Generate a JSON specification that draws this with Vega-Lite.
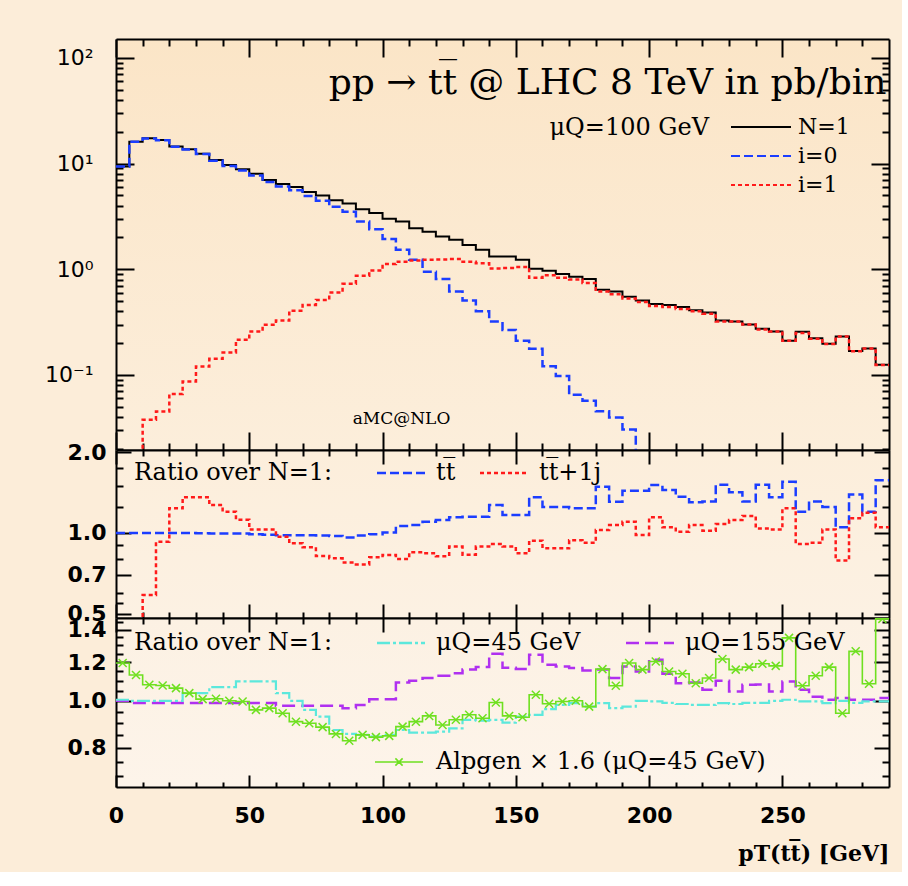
{
"$schema": "https://vega.github.io/schema/vega-lite/v6.json",
"background": "#FCEDD9",
"padding": {"left": 44, "top": 38, "right": 12, "bottom": 8},
"spacing": 0,
"bounds": "flush",
"resolve": {"scale": {"color": "independent", "strokeDash": "independent", "strokeWidth": "independent"}, "legend": {"color": "independent", "strokeDash": "independent", "strokeWidth": "independent"}},
"config": {
  "font": "DejaVu Serif",
  "view": {"stroke": null},
  "axis": {"domainColor": "#000", "domainWidth": 2, "tickColor": "#000", "tickWidth": 2, "grid": false, "labelColor": "#000", "titleColor": "#000", "labelOverlap": false, "labelFlush": false},
  "legend": {"labelColor": "#000", "titleColor": "#000", "padding": 0, "titleLimit": 400, "labelLimit": 400}
},
"data": {"values": [
{"lo":0,"N1":9.4,"i0":9.4,"i1":null,"rtt":1.0,"rtt1j":null,"mu45":1.005,"mu155":1.0,"alp":1.196},
{"lo":5,"N1":16.1,"i0":16.1,"i1":0.005,"rtt":1.0,"rtt1j":0.3,"mu45":1.0,"mu155":0.99,"alp":1.13},
{"lo":10,"N1":17.4,"i0":17.3,"i1":0.0376,"rtt":1.0,"rtt1j":0.588,"mu45":1.0,"mu155":0.99,"alp":1.079},
{"lo":15,"N1":16.7,"i0":16.6,"i1":0.0451,"rtt":1.0,"rtt1j":0.928,"mu45":1.0,"mu155":0.99,"alp":1.075},
{"lo":20,"N1":14.5,"i0":14.4,"i1":0.0662,"rtt":1.0,"rtt1j":1.235,"mu45":1.0,"mu155":0.99,"alp":1.062},
{"lo":25,"N1":13.7,"i0":13.6,"i1":0.0867,"rtt":1.0,"rtt1j":1.358,"mu45":1.037,"mu155":0.99,"alp":1.037},
{"lo":30,"N1":12.4,"i0":12.3,"i1":0.12,"rtt":0.998,"rtt1j":1.358,"mu45":1.037,"mu155":0.99,"alp":1.008},
{"lo":35,"N1":10.8,"i0":10.65,"i1":0.142,"rtt":0.995,"rtt1j":1.27,"mu45":1.067,"mu155":0.99,"alp":1.01},
{"lo":40,"N1":9.7,"i0":9.5,"i1":0.163,"rtt":0.995,"rtt1j":1.2,"mu45":1.067,"mu155":0.99,"alp":1.0},
{"lo":45,"N1":8.85,"i0":8.6,"i1":0.215,"rtt":0.995,"rtt1j":1.12,"mu45":1.096,"mu155":0.99,"alp":0.997},
{"lo":50,"N1":8.0,"i0":7.7,"i1":0.258,"rtt":0.99,"rtt1j":1.03,"mu45":1.096,"mu155":0.99,"alp":0.958},
{"lo":55,"N1":7.0,"i0":6.7,"i1":0.298,"rtt":0.985,"rtt1j":1.03,"mu45":1.096,"mu155":0.99,"alp":0.966},
{"lo":60,"N1":6.4,"i0":6.06,"i1":0.327,"rtt":0.98,"rtt1j":0.969,"mu45":1.037,"mu155":0.977,"alp":0.943},
{"lo":65,"N1":6.0,"i0":5.6,"i1":0.406,"rtt":0.98,"rtt1j":0.915,"mu45":1.0,"mu155":0.977,"alp":0.906},
{"lo":70,"N1":5.4,"i0":4.95,"i1":0.46,"rtt":0.98,"rtt1j":0.885,"mu45":0.958,"mu155":0.977,"alp":0.899},
{"lo":75,"N1":5.0,"i0":4.45,"i1":0.513,"rtt":0.978,"rtt1j":0.821,"mu45":0.928,"mu155":0.977,"alp":0.883},
{"lo":80,"N1":4.5,"i0":3.9,"i1":0.602,"rtt":0.975,"rtt1j":0.805,"mu45":0.871,"mu155":0.977,"alp":0.855},
{"lo":85,"N1":4.2,"i0":3.5,"i1":0.728,"rtt":0.963,"rtt1j":0.776,"mu45":0.855,"mu155":0.966,"alp":0.828},
{"lo":90,"N1":3.7,"i0":2.83,"i1":0.867,"rtt":0.978,"rtt1j":0.764,"mu45":0.851,"mu155":0.98,"alp":0.851},
{"lo":95,"N1":3.4,"i0":2.39,"i1":0.973,"rtt":0.99,"rtt1j":0.812,"mu45":0.844,"mu155":1.008,"alp":0.842},
{"lo":100,"N1":3.0,"i0":1.93,"i1":1.12,"rtt":1.005,"rtt1j":0.829,"mu45":0.851,"mu155":1.008,"alp":0.847},
{"lo":105,"N1":2.83,"i0":1.53,"i1":1.18,"rtt":1.062,"rtt1j":0.8,"mu45":0.871,"mu155":1.09,"alp":0.885},
{"lo":110,"N1":2.45,"i0":1.23,"i1":1.21,"rtt":1.07,"rtt1j":0.848,"mu45":0.86,"mu155":1.1,"alp":0.906},
{"lo":115,"N1":2.27,"i0":0.95,"i1":1.23,"rtt":1.1,"rtt1j":0.84,"mu45":0.86,"mu155":1.114,"alp":0.931},
{"lo":120,"N1":2.04,"i0":0.81,"i1":1.24,"rtt":1.117,"rtt1j":0.82,"mu45":0.864,"mu155":1.126,"alp":0.892},
{"lo":125,"N1":1.9,"i0":0.615,"i1":1.25,"rtt":1.144,"rtt1j":0.89,"mu45":0.878,"mu155":1.14,"alp":0.914},
{"lo":130,"N1":1.7,"i0":0.506,"i1":1.18,"rtt":1.15,"rtt1j":0.83,"mu45":0.914,"mu155":1.16,"alp":0.936},
{"lo":135,"N1":1.53,"i0":0.4,"i1":1.14,"rtt":1.15,"rtt1j":0.89,"mu45":0.91,"mu155":1.173,"alp":0.921},
{"lo":140,"N1":1.32,"i0":0.32,"i1":1.02,"rtt":1.27,"rtt1j":0.91,"mu45":0.914,"mu155":1.25,"alp":0.992},
{"lo":145,"N1":1.32,"i0":0.266,"i1":1.03,"rtt":1.167,"rtt1j":0.89,"mu45":0.902,"mu155":1.17,"alp":0.931},
{"lo":150,"N1":1.23,"i0":0.211,"i1":1.05,"rtt":1.167,"rtt1j":0.84,"mu45":0.928,"mu155":1.162,"alp":0.925},
{"lo":155,"N1":1.01,"i0":0.177,"i1":0.83,"rtt":1.357,"rtt1j":0.936,"mu45":0.936,"mu155":1.244,"alp":1.029},
{"lo":160,"N1":0.97,"i0":0.121,"i1":0.88,"rtt":1.25,"rtt1j":0.877,"mu45":0.961,"mu155":1.186,"alp":0.986},
{"lo":165,"N1":0.9,"i0":0.098,"i1":0.83,"rtt":1.25,"rtt1j":0.877,"mu45":0.981,"mu155":1.177,"alp":0.997},
{"lo":170,"N1":0.85,"i0":0.065,"i1":0.8,"rtt":1.235,"rtt1j":0.94,"mu45":0.989,"mu155":1.168,"alp":1.0},
{"lo":175,"N1":0.81,"i0":0.057,"i1":0.74,"rtt":1.235,"rtt1j":0.92,"mu45":0.973,"mu155":1.155,"alp":0.973},
{"lo":180,"N1":0.64,"i0":0.0454,"i1":0.615,"rtt":1.487,"rtt1j":1.026,"mu45":0.989,"mu155":1.16,"alp":1.162},
{"lo":185,"N1":0.615,"i0":0.0395,"i1":0.58,"rtt":1.307,"rtt1j":1.07,"mu45":0.966,"mu155":1.114,"alp":1.074},
{"lo":190,"N1":0.55,"i0":0.0305,"i1":0.53,"rtt":1.437,"rtt1j":1.1,"mu45":0.973,"mu155":1.177,"alp":1.196},
{"lo":195,"N1":0.506,"i0":0.012,"i1":0.49,"rtt":1.437,"rtt1j":0.983,"mu45":1.0,"mu155":1.149,"alp":1.159},
{"lo":200,"N1":0.47,"i0":null,"i1":0.45,"rtt":1.509,"rtt1j":1.144,"mu45":0.997,"mu155":1.215,"alp":1.205},
{"lo":205,"N1":0.46,"i0":null,"i1":0.44,"rtt":1.445,"rtt1j":1.05,"mu45":0.99,"mu155":1.137,"alp":1.149},
{"lo":210,"N1":0.44,"i0":null,"i1":0.42,"rtt":1.365,"rtt1j":1.01,"mu45":0.985,"mu155":1.087,"alp":1.137},
{"lo":215,"N1":0.41,"i0":null,"i1":0.4,"rtt":1.3,"rtt1j":1.07,"mu45":0.981,"mu155":1.09,"alp":1.087},
{"lo":220,"N1":0.39,"i0":null,"i1":0.38,"rtt":1.31,"rtt1j":1.02,"mu45":0.981,"mu155":1.054,"alp":1.114},
{"lo":225,"N1":0.327,"i0":null,"i1":0.32,"rtt":1.51,"rtt1j":1.08,"mu45":0.989,"mu155":1.1,"alp":1.219},
{"lo":230,"N1":0.32,"i0":null,"i1":0.32,"rtt":1.417,"rtt1j":1.117,"mu45":0.985,"mu155":1.045,"alp":1.159},
{"lo":235,"N1":0.3,"i0":null,"i1":0.3,"rtt":1.31,"rtt1j":1.157,"mu45":0.99,"mu155":1.079,"alp":1.173},
{"lo":240,"N1":0.273,"i0":null,"i1":0.27,"rtt":1.51,"rtt1j":1.04,"mu45":0.99,"mu155":1.08,"alp":1.192},
{"lo":245,"N1":0.258,"i0":null,"i1":0.258,"rtt":1.357,"rtt1j":1.03,"mu45":1.0,"mu155":1.045,"alp":1.18},
{"lo":250,"N1":0.211,"i0":null,"i1":0.211,"rtt":1.55,"rtt1j":1.235,"mu45":1.005,"mu155":1.096,"alp":1.347},
{"lo":255,"N1":0.256,"i0":null,"i1":0.25,"rtt":1.2,"rtt1j":0.91,"mu45":0.997,"mu155":1.054,"alp":1.074},
{"lo":260,"N1":0.223,"i0":null,"i1":0.22,"rtt":1.31,"rtt1j":0.92,"mu45":0.997,"mu155":1.02,"alp":1.126},
{"lo":265,"N1":0.197,"i0":null,"i1":0.196,"rtt":1.25,"rtt1j":1.03,"mu45":0.989,"mu155":1.005,"alp":1.173},
{"lo":270,"N1":0.231,"i0":null,"i1":0.231,"rtt":1.05,"rtt1j":0.79,"mu45":1.0,"mu155":1.013,"alp":0.943},
{"lo":275,"N1":0.169,"i0":null,"i1":0.168,"rtt":1.39,"rtt1j":1.134,"mu45":0.99,"mu155":1.005,"alp":1.264},
{"lo":280,"N1":0.178,"i0":null,"i1":0.178,"rtt":1.2,"rtt1j":1.19,"mu45":0.997,"mu155":1.005,"alp":1.084},
{"lo":285,"N1":0.125,"i0":null,"i1":0.124,"rtt":1.57,"rtt1j":1.05,"mu45":0.997,"mu155":1.013,"alp":1.474},
{"lo":290,"N1":0.125,"i0":null,"i1":0.124,"rtt":1.57,"rtt1j":1.05,"mu45":0.997,"mu155":1.013,"alp":1.474}
]},
"vconcat": [
{
  "width": 773, "height": 411,
  "view": {"stroke": null, "fill": {"gradient": "linear", "x1": 0, "y1": 0, "x2": 0, "y2": 1, "stops": [{"offset": 0, "color": "#FBE5C7"}, {"offset": 1, "color": "#FCEEDB"}]}},
  "resolve": {"axis": {"x": "independent", "y": "independent"}},
  "layer": [
    {
      "mark": {"type": "line", "interpolate": "step-after", "strokeWidth": 2, "clip": true},
      "encoding": {
        "x": {"field": "lo", "type": "quantitative", "scale": {"domain": [0, 290], "nice": false, "zero": false},
          "axis": {"orient": "bottom", "values": [0,10,20,30,40,50,60,70,80,90,100,110,120,130,140,150,160,170,180,190,200,210,220,230,240,250,260,270,280], "labels": false,
            "tickSize": {"condition": {"test": "datum.value % 50 === 0", "value": -18}, "value": -7},
            "title": "aMC@NLO", "titleX": 285, "titleY": -27, "titleAlign": "center", "titleBaseline": "alphabetic", "titleFont": "DejaVu Serif", "titleFontSize": 17, "titleFontWeight": "normal"}},
        "y": {"field": "N1", "type": "quantitative", "scale": {"type": "log", "domain": [0.0195, 151], "nice": false},
          "axis": {"orient": "left", "values": [0.02,0.03,0.04,0.05,0.06,0.07,0.08,0.09,0.1,0.2,0.3,0.4,0.5,0.6,0.7,0.8,0.9,1,2,3,4,5,6,7,8,9,10,20,30,40,50,60,70,80,90,100],
            "tickSize": {"condition": {"test": "datum.value === 0.1 || datum.value === 1 || datum.value === 10 || datum.value === 100", "value": -18}, "value": -7},
            "labelExpr": "datum.value === 100 ? '10²' : datum.value === 10 ? '10¹' : datum.value === 1 ? '10⁰' : datum.value === 0.1 ? '10⁻¹' : ''",
            "labelFont": "DejaVu Sans", "labelFontSize": 22, "labelFontWeight": "normal", "labelPadding": 41, "title": null}},
        "color": {"datum": "N=1", "scale": {"domain": ["N=1", "i=0", "i=1"], "range": ["#000000", "#1b3dff", "#ff1a1a"]},
          "legend": {"orient": "none", "legendX": 634, "legendY": 77, "title": null, "direction": "vertical", "symbolType": "M-5,0H5", "symbolSize": 144, "symbolStrokeWidth": 2.2, "labelFont": "DejaVu Serif", "labelFontSize": 22, "labelOffset": 26, "rowPadding": 7}},
        "strokeDash": {"datum": "N=1", "scale": {"domain": ["N=1", "i=0", "i=1"], "range": [[1, 0], [9, 4], [4, 3]]},
          "legend": {"orient": "none", "legendX": 634, "legendY": 77, "title": null, "direction": "vertical", "symbolType": "M-5,0H5", "symbolSize": 144, "symbolStrokeWidth": 2.2, "labelFont": "DejaVu Serif", "labelFontSize": 22, "labelOffset": 26, "rowPadding": 7}}
      }
    },
    {
      "mark": {"type": "line", "interpolate": "step-after", "strokeWidth": 2.5, "clip": true},
      "encoding": {
        "x": {"field": "lo", "type": "quantitative",
          "axis": {"orient": "top", "values": [0,10,20,30,40,50,60,70,80,90,100,110,120,130,140,150,160,170,180,190,200,210,220,230,240,250,260,270,280], "labels": false,
            "tickSize": {"condition": {"test": "datum.value % 50 === 0", "value": -18}, "value": -7},
            "title": "pp → tt\u0305 @ LHC 8 TeV in pb/bin", "titleX": 770, "titleY": 54, "titleAlign": "right", "titleBaseline": "alphabetic", "titleFont": "DejaVu Serif", "titleFontSize": 36, "titleFontWeight": "normal"}},
        "y": {"field": "i0", "type": "quantitative",
          "axis": {"orient": "right", "values": [0.02,0.03,0.04,0.05,0.06,0.07,0.08,0.09,0.1,0.2,0.3,0.4,0.5,0.6,0.7,0.8,0.9,1,2,3,4,5,6,7,8,9,10,20,30,40,50,60,70,80,90,100],
            "tickSize": {"condition": {"test": "datum.value === 0.1 || datum.value === 1 || datum.value === 10 || datum.value === 100", "value": -18}, "value": -7},
            "labels": false, "title": "μQ=100 GeV", "titleAngle": 0, "titleX": -340, "titleY": 95, "titleAlign": "left", "titleBaseline": "alphabetic", "titleFont": "DejaVu Serif", "titleFontSize": 24, "titleFontWeight": "normal"}},
        "color": {"datum": "i=0"},
        "strokeDash": {"datum": "i=0"}
      }
    },
    {
      "mark": {"type": "line", "interpolate": "step-after", "strokeWidth": 2.5, "clip": true},
      "encoding": {
        "x": {"field": "lo", "type": "quantitative", "axis": null},
        "y": {"field": "i1", "type": "quantitative", "axis": null},
        "color": {"datum": "i=1"},
        "strokeDash": {"datum": "i=1"}
      }
    }
  ]
},
{
  "width": 773, "height": 168,
  "view": {"stroke": null, "fill": {"gradient": "linear", "x1": 0, "y1": 0, "x2": 0, "y2": 1, "stops": [{"offset": 0, "color": "#FCEEDB"}, {"offset": 1, "color": "#FCF1E3"}]}},
  "resolve": {"axis": {"x": "independent", "y": "independent"}},
  "layer": [
    {
      "mark": {"type": "line", "interpolate": "step-after", "strokeWidth": 2.5, "clip": true},
      "encoding": {
        "x": {"field": "lo", "type": "quantitative", "scale": {"domain": [0, 290], "nice": false, "zero": false},
          "axis": {"orient": "bottom", "values": [0,10,20,30,40,50,60,70,80,90,100,110,120,130,140,150,160,170,180,190,200,210,220,230,240,250,260,270,280], "labels": false,
            "tickSize": {"condition": {"test": "datum.value % 50 === 0", "value": -14}, "value": -6}, "title": null}},
        "y": {"field": "rtt", "type": "quantitative", "scale": {"type": "log", "domain": [0.483, 2.035], "nice": false},
          "axis": {"orient": "left", "values": [0.5,0.55,0.6,0.7,0.8,0.9,1,1.25,1.5,1.75,2],
            "tickSize": {"condition": {"test": "datum.value === 0.5 || datum.value === 0.7 || datum.value === 1 || datum.value === 2", "value": -15}, "value": -7},
            "labelExpr": "datum.value === 2 ? '2.0' : datum.value === 1 ? '1.0' : datum.value === 0.7 ? '0.7' : datum.value === 0.5 ? '0.5' : ''",
            "labelFont": "DejaVu Sans", "labelFontSize": 22, "labelFontWeight": "bold", "labelPadding": 25, "title": null}},
        "color": {"datum": "tt\u0305", "scale": {"domain": ["tt\u0305", "tt\u0305+1j"], "range": ["#1b3dff", "#ff1a1a"]},
          "legend": {"orient": "none", "legendX": 18, "legendY": 11, "title": "Ratio over N=1:", "titleOrient": "left", "titleFont": "DejaVu Serif", "titleFontSize": 24, "titleFontWeight": "normal", "titlePadding": 56, "direction": "horizontal", "symbolType": "M-4,0H4", "symbolSize": 144, "symbolStrokeWidth": 2.5, "labelFont": "DejaVu Serif", "labelFontSize": 24, "labelOffset": 23, "columnPadding": 19}},
        "strokeDash": {"datum": "tt\u0305", "scale": {"domain": ["tt\u0305", "tt\u0305+1j"], "range": [[9, 4], [4, 3]]},
          "legend": {"orient": "none", "legendX": 18, "legendY": 11, "title": "Ratio over N=1:", "titleOrient": "left", "titleFont": "DejaVu Serif", "titleFontSize": 24, "titleFontWeight": "normal", "titlePadding": 56, "direction": "horizontal", "symbolType": "M-4,0H4", "symbolSize": 144, "symbolStrokeWidth": 2.5, "labelFont": "DejaVu Serif", "labelFontSize": 24, "labelOffset": 23, "columnPadding": 19}}
      }
    },
    {
      "mark": {"type": "line", "interpolate": "step-after", "strokeWidth": 2.5, "clip": true},
      "encoding": {
        "x": {"field": "lo", "type": "quantitative",
          "axis": {"orient": "top", "values": [0,10,20,30,40,50,60,70,80,90,100,110,120,130,140,150,160,170,180,190,200,210,220,230,240,250,260,270,280], "labels": false,
            "tickSize": {"condition": {"test": "datum.value % 50 === 0", "value": -14}, "value": -6}, "title": null}},
        "y": {"field": "rtt1j", "type": "quantitative",
          "axis": {"orient": "right", "values": [0.5,0.55,0.6,0.7,0.8,0.9,1,1.25,1.5,1.75,2],
            "tickSize": {"condition": {"test": "datum.value === 0.5 || datum.value === 0.7 || datum.value === 1 || datum.value === 2", "value": -15}, "value": -7},
            "labels": false, "title": null}},
        "color": {"datum": "tt\u0305+1j"},
        "strokeDash": {"datum": "tt\u0305+1j"}
      }
    }
  ]
},
{
  "width": 773, "height": 169,
  "view": {"stroke": null, "fill": {"gradient": "linear", "x1": 0, "y1": 0, "x2": 0, "y2": 1, "stops": [{"offset": 0, "color": "#FCF1E3"}, {"offset": 1, "color": "#FDF4EA"}]}},
  "resolve": {"axis": {"x": "independent", "y": "independent"}},
  "layer": [
    {
      "mark": {"type": "line", "interpolate": "step-after", "strokeWidth": 2.5, "clip": true},
      "encoding": {
        "x": {"field": "lo", "type": "quantitative", "scale": {"domain": [0, 290], "nice": false, "zero": false},
          "axis": {"orient": "bottom", "values": [0,10,20,30,40,50,60,70,80,90,100,110,120,130,140,150,160,170,180,190,200,210,220,230,240,250,260,270,280],
            "labelExpr": "datum.value % 50 === 0 ? datum.label : ''",
            "tickSize": {"condition": {"test": "datum.value % 50 === 0", "value": -12}, "value": -5},
            "labelFont": "DejaVu Sans", "labelFontSize": 22, "labelFontWeight": "bold", "labelPadding": 30,
            "title": "pT(tt\u0305) [GeV]", "titleX": 773, "titleY": 73, "titleAlign": "right", "titleBaseline": "alphabetic", "titleFont": "DejaVu Serif", "titleFontSize": 22, "titleFontWeight": "bold"}},
        "y": {"field": "mu155", "type": "quantitative", "scale": {"type": "log", "domain": [0.665, 1.48], "nice": false},
          "axis": {"orient": "left", "values": [0.7,0.75,0.8,0.85,0.9,0.95,1,1.05,1.1,1.15,1.2,1.25,1.3,1.35,1.4,1.45],
            "tickSize": {"condition": {"test": "datum.value === 0.8 || datum.value === 1 || datum.value === 1.2 || datum.value === 1.4", "value": -15}, "value": -7},
            "labelExpr": "datum.value === 1.4 ? '1.4' : datum.value === 1.2 ? '1.2' : datum.value === 1 ? '1.0' : datum.value === 0.8 ? '0.8' : ''",
            "labelFont": "DejaVu Sans", "labelFontSize": 22, "labelFontWeight": "bold", "labelPadding": 25, "title": null}},
        "color": {"datum": "μQ=155 GeV", "scale": {"domain": ["μQ=45 GeV", "μQ=155 GeV"], "range": ["#5ce8dc", "#b030f0"]},
          "legend": {"orient": "none", "legendX": 18, "legendY": 13, "title": "Ratio over N=1:", "titleOrient": "left", "titleFont": "DejaVu Serif", "titleFontSize": 24, "titleFontWeight": "normal", "titlePadding": 56, "direction": "horizontal", "symbolType": "M-4,0H4", "symbolSize": 144, "symbolStrokeWidth": 2.5, "labelFont": "DejaVu Serif", "labelFontSize": 24, "labelOffset": 23, "columnPadding": 40}},
        "strokeDash": {"datum": "μQ=155 GeV", "scale": {"domain": ["μQ=45 GeV", "μQ=155 GeV"], "range": [[13, 3, 3, 3], [13, 6]]},
          "legend": {"orient": "none", "legendX": 18, "legendY": 13, "title": "Ratio over N=1:", "titleOrient": "left", "titleFont": "DejaVu Serif", "titleFontSize": 24, "titleFontWeight": "normal", "titlePadding": 56, "direction": "horizontal", "symbolType": "M-4,0H4", "symbolSize": 144, "symbolStrokeWidth": 2.5, "labelFont": "DejaVu Serif", "labelFontSize": 24, "labelOffset": 23, "columnPadding": 40}}
      }
    },
    {
      "mark": {"type": "line", "interpolate": "step-after", "strokeWidth": 2.2, "clip": true},
      "encoding": {
        "x": {"field": "lo", "type": "quantitative",
          "axis": {"orient": "top", "values": [0,10,20,30,40,50,60,70,80,90,100,110,120,130,140,150,160,170,180,190,200,210,220,230,240,250,260,270,280], "labels": false,
            "tickSize": {"condition": {"test": "datum.value % 50 === 0", "value": -14}, "value": -6}, "title": null}},
        "y": {"field": "mu45", "type": "quantitative",
          "axis": {"orient": "right", "values": [0.7,0.75,0.8,0.85,0.9,0.95,1,1.05,1.1,1.15,1.2,1.25,1.3,1.35,1.4,1.45],
            "tickSize": {"condition": {"test": "datum.value === 0.8 || datum.value === 1 || datum.value === 1.2 || datum.value === 1.4", "value": -15}, "value": -7},
            "labels": false, "title": null}},
        "color": {"datum": "μQ=45 GeV"},
        "strokeDash": {"datum": "μQ=45 GeV"}
      }
    },
    {
      "mark": {"type": "line", "interpolate": "step-after", "color": "#6fe020", "clip": true},
      "encoding": {
        "x": {"field": "lo", "type": "quantitative", "axis": null},
        "y": {"field": "alp", "type": "quantitative", "axis": null},
        "strokeWidth": {"datum": "Alpgen × 1.6 (μQ=45 GeV)", "type": "ordinal", "scale": {"range": [1.6, 1.6]},
          "legend": {"orient": "none", "legendX": 271, "legendY": 132, "title": null, "symbolType": "M-4,0H4M-0.6,-0.6L0.6,0.6M0.6,-0.6L-0.6,0.6", "symbolSize": 144, "symbolStrokeColor": "#6fe020", "labelFont": "DejaVu Serif", "labelFontSize": 24, "labelOffset": 25}}
      }
    },
    {
      "transform": [{"filter": "datum.lo < 290"}],
      "mark": {"type": "point", "shape": "M-1,-1L1,1M1,-1L-1,1", "size": 64, "filled": false, "color": "#6fe020", "strokeWidth": 1.5, "xOffset": 6.67, "opacity": 1, "clip": true},
      "encoding": {
        "x": {"field": "lo", "type": "quantitative", "axis": null},
        "y": {"field": "alp", "type": "quantitative", "axis": null}
      }
    }
  ]
}
]
}
